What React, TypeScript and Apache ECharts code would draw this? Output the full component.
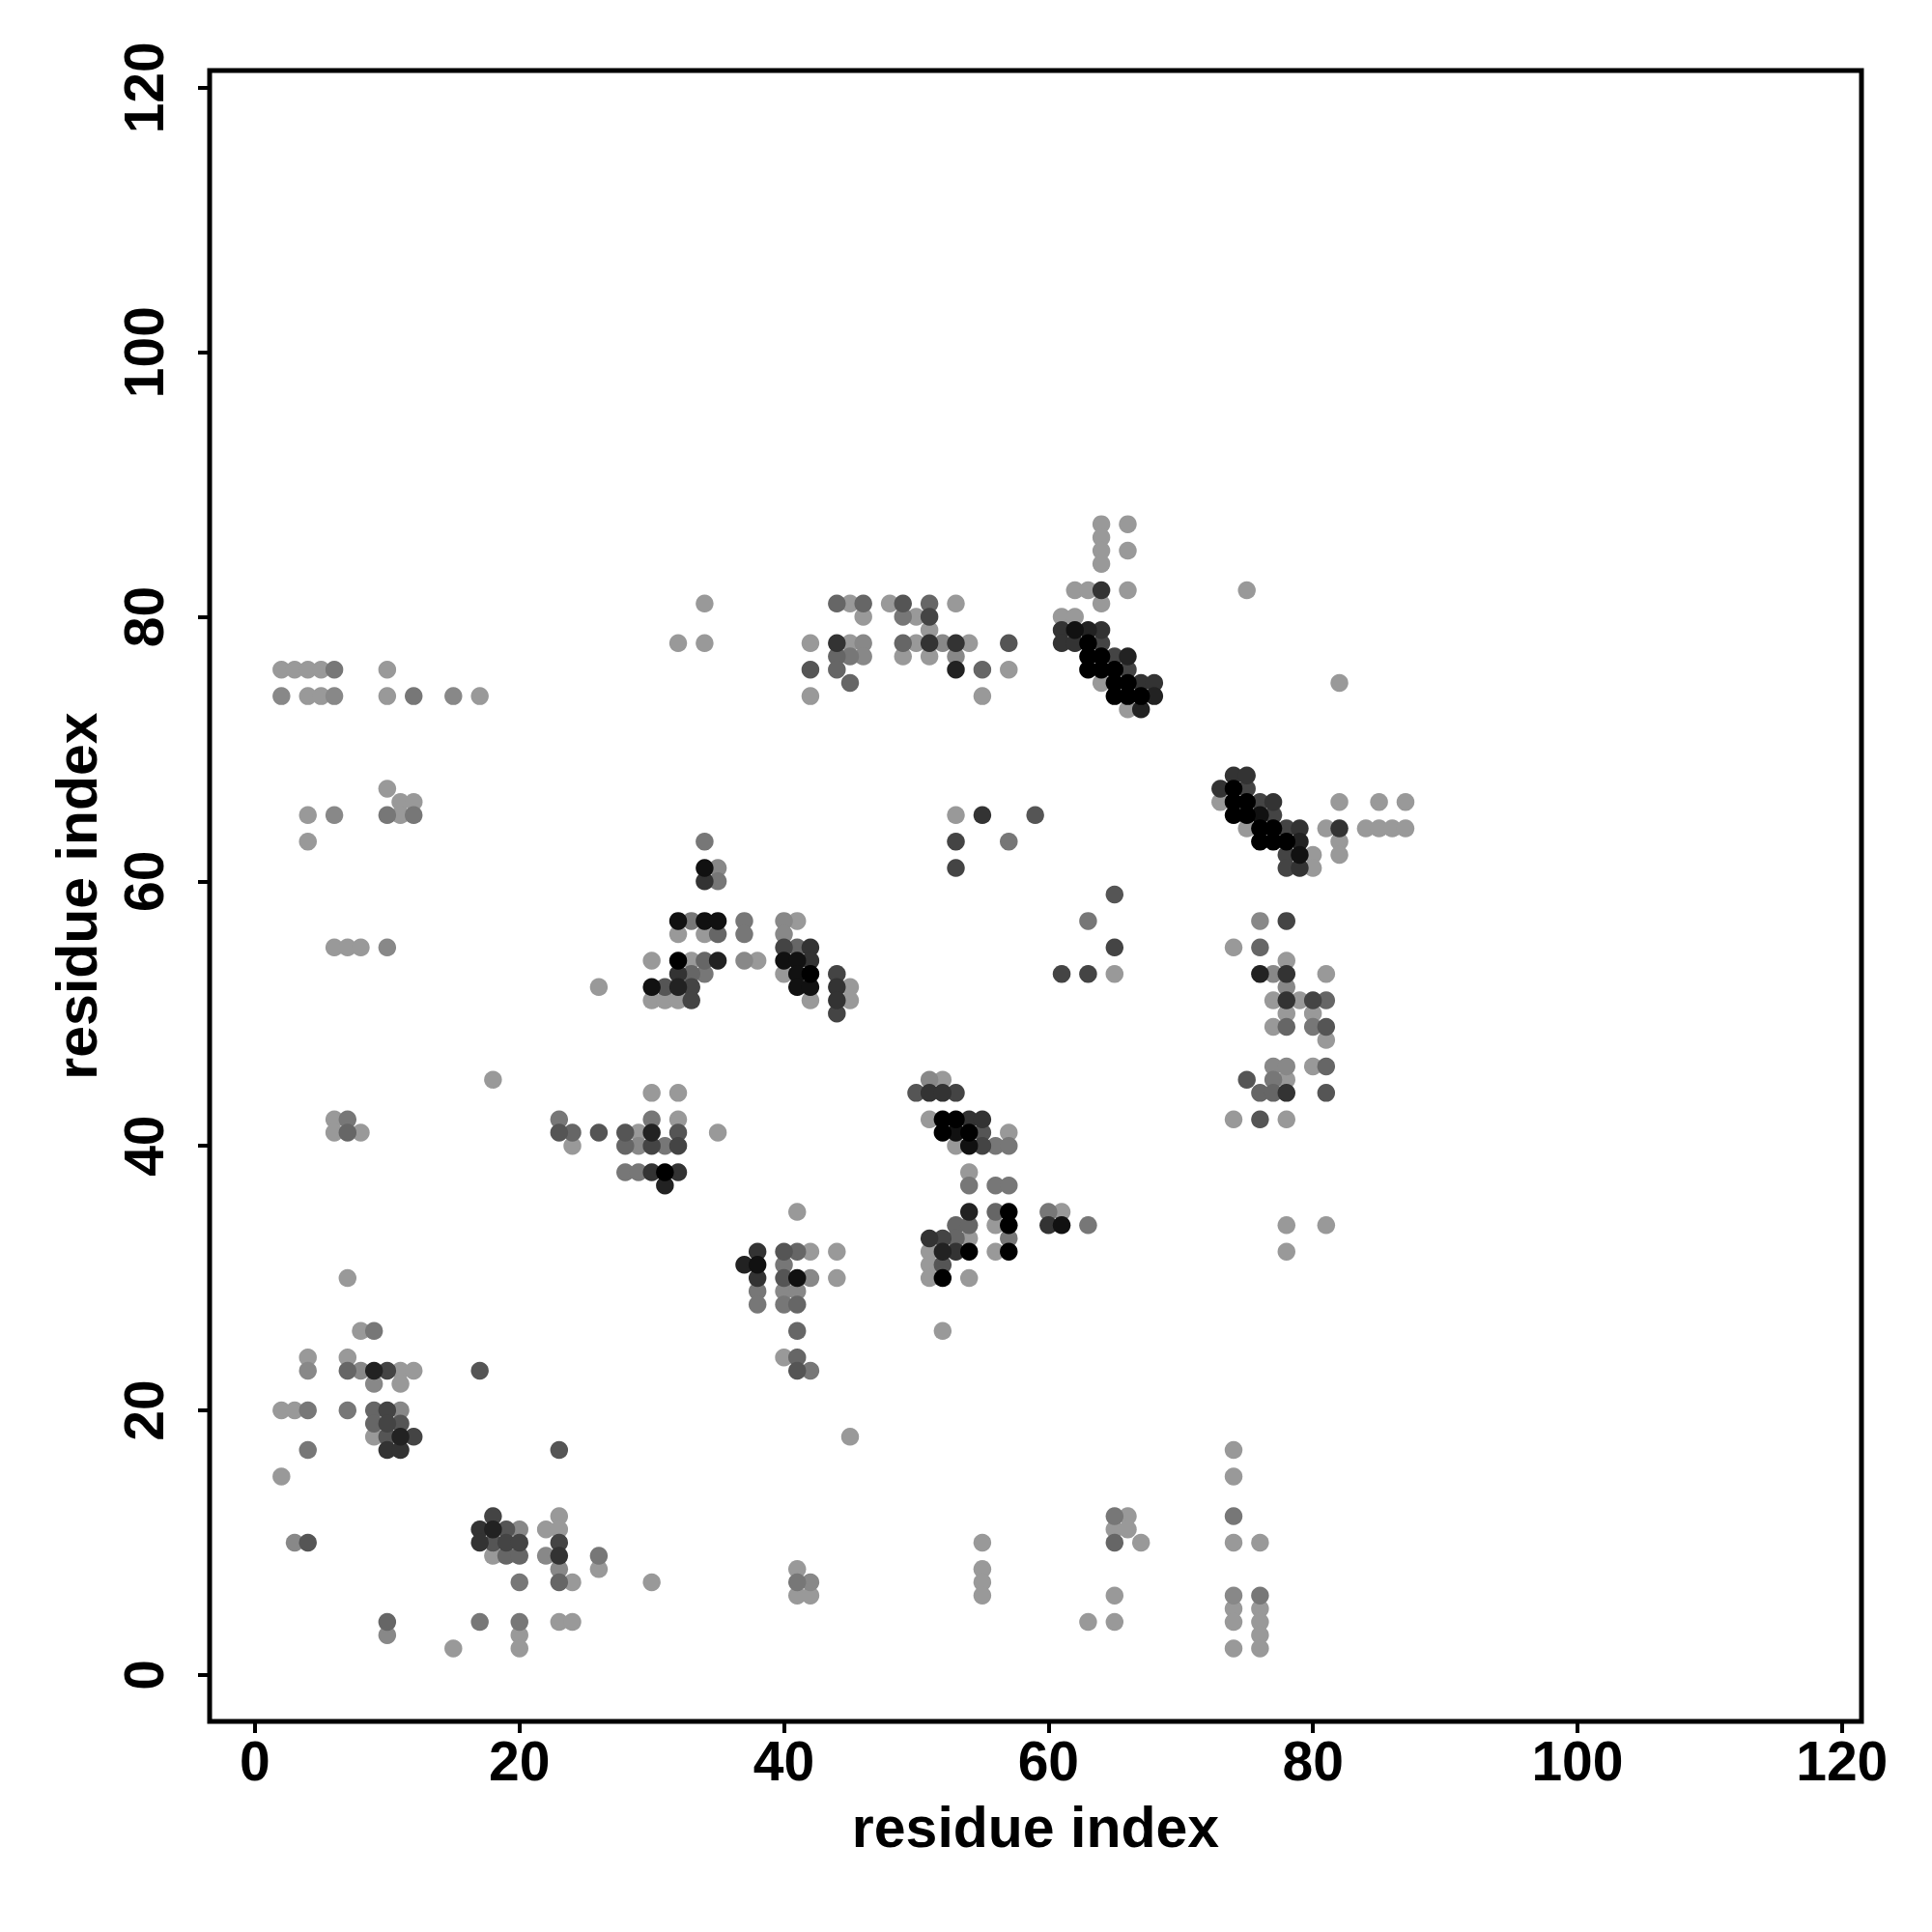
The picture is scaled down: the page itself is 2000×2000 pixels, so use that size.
import React, { useEffect, useRef } from 'react';
import * as echarts from 'echarts';

// Tick values and axis titles
const tickValues = [0, 20, 40, 60, 80, 100, 120];
const xTitle = 'residue index';
const yTitle = 'residue index';

// Contacts: [residue i, residue j, shade] (shade 0 = black ... 9 = light grey)
const clusterTopLeft = [
  [2, 76, 9], [3, 76, 9], [4, 76, 9], [5, 76, 9], [6, 76, 7], [10, 76, 9],
  [2, 74, 8], [4, 74, 9], [5, 74, 9], [6, 74, 8], [10, 74, 9], [12, 74, 7], [15, 74, 8], [17, 74, 9],
  [10, 67, 9], [11, 66, 9], [12, 66, 9],
  [4, 65, 9], [6, 65, 8], [10, 65, 7], [11, 65, 9], [12, 65, 7],
  [4, 63, 9],
];

const clusterLeftMid = [
  [6, 55, 9], [7, 55, 9], [8, 55, 9], [10, 55, 8],
  [18, 45, 9],
  [6, 42, 9], [7, 42, 7], [6, 41, 9], [7, 41, 6], [8, 41, 9],
];

const clusterLeftLow = [
  [7, 30, 9], [8, 26, 9], [9, 26, 7], [4, 24, 9], [7, 24, 9],
  [4, 23, 8], [7, 23, 6], [8, 23, 8], [9, 23, 2], [10, 23, 4], [11, 23, 9], [12, 23, 9], [17, 23, 5],
  [9, 22, 8], [11, 22, 9],
  [2, 20, 9], [3, 20, 9], [4, 20, 7], [7, 20, 7], [9, 20, 6], [10, 20, 4], [11, 20, 8],
  [9, 19, 6], [10, 19, 4], [11, 19, 5],
  [9, 18, 9], [10, 18, 5], [11, 18, 2], [12, 18, 4],
  [4, 17, 7], [10, 17, 3], [11, 17, 3],
  [2, 15, 9],
];

const clusterBottomLeft = [
  [3, 10, 8], [4, 10, 5],
  [23, 17, 5], [23, 12, 9], [18, 12, 4],
  [17, 11, 3], [18, 11, 2], [19, 11, 5], [20, 11, 8], [22, 11, 9], [23, 11, 9],
  [17, 10, 3], [18, 10, 5], [19, 10, 4], [20, 10, 4], [23, 10, 4],
  [18, 9, 9], [19, 9, 6], [20, 9, 6], [22, 9, 8], [23, 9, 3], [26, 9, 7],
  [23, 8, 8], [26, 8, 9],
  [20, 7, 7], [23, 7, 6], [24, 7, 9], [30, 7, 9],
  [10, 4, 6], [17, 4, 7], [20, 4, 7], [23, 4, 9], [24, 4, 9],
  [10, 3, 8], [20, 3, 9],
  [15, 2, 9], [20, 2, 9],
];

const clusterE = [
  [30, 44, 9], [32, 44, 9],
  [23, 42, 7], [30, 42, 7], [32, 42, 9],
  [23, 41, 5], [24, 41, 6], [26, 41, 5], [28, 41, 5], [29, 41, 9], [30, 41, 2], [32, 41, 5], [35, 41, 9],
  [24, 40, 9], [28, 40, 6], [29, 40, 8], [30, 40, 4], [31, 40, 7], [32, 40, 4],
  [28, 38, 7], [29, 38, 7], [30, 38, 3], [31, 38, 0], [32, 38, 3],
  [31, 37, 2],
];

const clusterF = [
  [34, 63, 7], [34, 61, 1], [35, 61, 8], [34, 60, 3], [35, 60, 7],
  [32, 57, 1], [33, 57, 7], [34, 57, 1], [35, 57, 1], [37, 57, 7], [40, 57, 8], [41, 57, 9],
  [32, 56, 9], [34, 56, 9], [35, 56, 6], [37, 56, 7], [40, 56, 8],
  [40, 55, 4], [41, 55, 6], [42, 55, 3],
  [30, 54, 9], [32, 54, 0], [33, 54, 9], [34, 54, 6], [35, 54, 2], [37, 54, 8], [38, 54, 9], [40, 54, 1], [41, 54, 1], [42, 54, 3],
  [32, 53, 3], [33, 53, 6], [34, 53, 7], [40, 53, 9], [41, 53, 1], [42, 53, 0], [44, 53, 4],
  [26, 52, 9], [30, 52, 1], [31, 52, 5], [32, 52, 2], [33, 52, 4], [41, 52, 1], [42, 52, 1], [44, 52, 3], [45, 52, 9],
  [30, 51, 9], [31, 51, 9], [32, 51, 9], [33, 51, 4], [42, 51, 9], [44, 51, 3], [45, 51, 9],
  [44, 50, 4],
];

const clusterG = [
  [34, 81, 9], [32, 78, 9], [34, 78, 9],
  [44, 81, 6], [45, 81, 9], [46, 81, 6], [48, 81, 9], [49, 81, 5], [51, 81, 6], [53, 81, 9],
  [46, 80, 9], [49, 80, 7], [50, 80, 9], [51, 80, 4],
  [51, 79, 9],
  [42, 78, 9], [44, 78, 3], [45, 78, 9], [46, 78, 8], [49, 78, 6], [50, 78, 9], [51, 78, 3], [52, 78, 8], [53, 78, 3], [54, 78, 9], [57, 78, 5],
  [44, 77, 6], [45, 77, 7], [46, 77, 8], [49, 77, 9], [51, 77, 9], [53, 77, 8],
  [42, 76, 5], [44, 76, 6], [53, 76, 2], [55, 76, 6], [57, 76, 9],
  [45, 75, 6],
  [42, 74, 9], [55, 74, 9],
];

const clusterH = [
  [64, 87, 9], [66, 87, 9], [64, 86, 9], [64, 85, 9], [66, 85, 9], [64, 84, 9],
  [62, 82, 9], [63, 82, 9], [64, 82, 3], [66, 82, 9],
  [64, 81, 9],
  [61, 80, 9], [62, 80, 9],
  [61, 79, 3], [62, 79, 1], [63, 79, 2], [64, 79, 3],
  [61, 78, 3], [62, 78, 3], [63, 78, 0], [64, 78, 4],
  [63, 77, 0], [64, 77, 0], [65, 77, 4], [66, 77, 2],
  [63, 76, 0], [64, 76, 0], [65, 76, 0], [66, 76, 4],
  [64, 75, 9], [65, 75, 0], [66, 75, 0], [67, 75, 3], [68, 75, 3],
  [65, 74, 0], [66, 74, 0], [67, 74, 0], [68, 74, 2],
  [66, 73, 9], [67, 73, 2],
  [75, 82, 9], [82, 75, 9],
];

const clusterI = [
  [53, 65, 9], [55, 65, 3], [59, 65, 5], [53, 63, 4], [57, 63, 7], [53, 61, 4],
  [65, 59, 5], [63, 57, 7], [65, 55, 4], [61, 53, 4], [63, 53, 4], [65, 53, 9],
];

const clusterJ = [
  [74, 68, 3], [75, 68, 3],
  [73, 67, 3], [74, 67, 0], [75, 67, 4],
  [73, 66, 9], [74, 66, 0], [75, 66, 0], [76, 66, 4], [77, 66, 3], [82, 66, 9], [85, 66, 9], [87, 66, 9],
  [74, 65, 0], [75, 65, 0], [76, 65, 1], [77, 65, 4],
  [75, 64, 9], [76, 64, 0], [77, 64, 0], [78, 64, 4], [79, 64, 3], [81, 64, 9], [82, 64, 3], [84, 64, 9], [85, 64, 9], [86, 64, 9], [87, 64, 9],
  [76, 63, 0], [77, 63, 0], [78, 63, 0], [79, 63, 2], [82, 63, 9],
  [78, 62, 4], [79, 62, 1], [80, 62, 9], [82, 62, 9],
  [78, 61, 4], [79, 61, 3], [80, 61, 9],
];

const clusterK = [
  [74, 55, 9], [76, 55, 6], [76, 57, 8], [78, 57, 4],
  [78, 54, 9],
  [76, 53, 2], [77, 53, 8], [78, 53, 3], [81, 53, 9],
  [78, 52, 8],
  [77, 51, 9], [78, 51, 3], [79, 51, 9], [80, 51, 4], [81, 51, 6],
  [78, 50, 9], [80, 50, 9],
  [77, 49, 9], [78, 49, 6], [80, 49, 7], [81, 49, 5],
  [81, 48, 9],
  [77, 46, 8], [78, 46, 8], [80, 46, 9], [81, 46, 6],
  [75, 45, 5], [77, 45, 7], [78, 45, 9],
  [76, 44, 6], [77, 44, 6], [78, 44, 3], [81, 44, 5],
  [74, 42, 9], [76, 42, 5], [78, 42, 9],
  [78, 34, 9], [81, 34, 9], [78, 32, 9],
];

const clusterL = [
  [51, 45, 8], [52, 45, 9],
  [50, 44, 5], [51, 44, 3], [52, 44, 3], [53, 44, 4],
  [51, 42, 9], [52, 42, 0], [53, 42, 0], [54, 42, 3], [55, 42, 3],
  [52, 41, 0], [53, 41, 1], [54, 41, 0], [55, 41, 5], [57, 41, 9],
  [53, 40, 9], [54, 40, 1], [55, 40, 4], [56, 40, 7], [57, 40, 7],
  [54, 38, 9],
  [54, 37, 7], [56, 37, 7], [57, 37, 7],
  [54, 35, 2], [56, 35, 6], [57, 35, 0], [60, 35, 7], [61, 35, 9],
  [53, 34, 6], [54, 34, 6], [56, 34, 9], [57, 34, 0], [60, 34, 3], [61, 34, 1], [63, 34, 7],
  [51, 33, 3], [52, 33, 4], [53, 33, 6], [54, 33, 9], [57, 33, 7],
  [51, 32, 9], [52, 32, 2], [53, 32, 3], [54, 32, 0], [56, 32, 9], [57, 32, 0],
  [51, 31, 9], [52, 31, 5],
  [51, 30, 9], [52, 30, 0], [54, 30, 9],
  [52, 26, 9],
];

const clusterM = [
  [41, 35, 9],
  [38, 32, 3], [40, 32, 5], [41, 32, 6], [42, 32, 9], [44, 32, 9],
  [37, 31, 2], [38, 31, 1], [40, 31, 7],
  [38, 30, 3], [40, 30, 5], [41, 30, 1], [42, 30, 8], [44, 30, 9],
  [38, 29, 7], [40, 29, 8], [41, 29, 8],
  [38, 28, 7], [40, 28, 7], [41, 28, 6],
  [41, 26, 6],
  [40, 24, 9], [41, 24, 6],
  [41, 23, 5], [42, 23, 7],
  [45, 18, 9],
  [41, 8, 9], [41, 7, 7], [42, 7, 8], [41, 6, 9], [42, 6, 9],
];

const clusterN = [
  [55, 10, 9], [55, 8, 9], [55, 7, 9], [55, 6, 9],
  [65, 12, 7], [66, 12, 9], [65, 11, 9], [66, 11, 9], [65, 10, 6], [67, 10, 9], [65, 6, 9], [63, 4, 9], [65, 4, 9],
  [74, 17, 9], [74, 15, 9], [74, 12, 7], [74, 10, 9], [76, 10, 9],
  [74, 6, 8], [76, 6, 7], [74, 5, 9], [76, 5, 9], [74, 4, 9], [76, 4, 9], [76, 3, 9], [74, 2, 9], [76, 2, 9],
];

const allContacts = [
  ...clusterTopLeft, ...clusterLeftMid, ...clusterLeftLow, ...clusterBottomLeft,
  ...clusterE, ...clusterF, ...clusterG, ...clusterH, ...clusterI, ...clusterJ,
  ...clusterK, ...clusterL, ...clusterM, ...clusterN,
];

function shadeColor(s: number): string {
  const v = Math.round(17 * s);
  return `rgb(${v},${v},${v})`;
}

const FONT = '"Liberation Sans", Arial, Helvetica, sans-serif';

export default function App() {
  const ref = useRef<HTMLDivElement>(null);
  useEffect(() => {
    if (!ref.current) return;
    const chart = echarts.init(ref.current, null, { renderer: 'svg' });
    // draw lighter first so darker points sit on top
    const sorted = [...allContacts].sort((a, b) => b[2] - a[2]);
    const data = sorted.map(([x, y, s]) => ({ value: [x, y], itemStyle: { color: shadeColor(s) } }));
    const labelStyle = {
      fontSize: 57,
      fontWeight: 'bold' as const,
      fontFamily: FONT,
      color: '#000',
    };
    chart.setOption({
      animation: false,
      backgroundColor: '#ffffff',
      grid: {
        left: 217,
        top: 73,
        width: 1710,
        height: 1709,
        show: true,
        borderColor: '#000',
        borderWidth: 5,
        backgroundColor: 'transparent',
      },
      xAxis: {
        type: 'value',
        min: -3.43,
        max: 121.48,
        splitLine: { show: false },
        axisLine: { show: false, onZero: false },
        axisTick: { show: true, customValues: tickValues, length: 12, lineStyle: { color: '#000', width: 4 } },
        axisLabel: { customValues: tickValues, margin: 12, ...labelStyle },
        name: xTitle,
        nameLocation: 'middle',
        nameGap: 80,
        nameTextStyle: { ...labelStyle, fontSize: 59 },
      },
      yAxis: {
        type: 'value',
        min: -3.52,
        max: 121.3,
        splitLine: { show: false },
        axisLine: { show: false, onZero: false },
        axisTick: { show: true, customValues: tickValues, length: 12, lineStyle: { color: '#000', width: 4 } },
        axisLabel: { customValues: tickValues, margin: 40, rotate: 90, ...labelStyle },
        name: yTitle,
        nameLocation: 'middle',
        nameGap: 108,
        nameRotate: 90,
        nameTextStyle: { ...labelStyle, fontSize: 59 },
      },
      series: [
        {
          type: 'scatter',
          data,
          symbol: 'circle',
          symbolSize: 18.5,
          itemStyle: { opacity: 1 },
          clip: true,
        },
      ],
    });
    return () => chart.dispose();
  }, []);
  return (
    <div
      ref={ref}
      style={{ position: 'absolute', left: 0, top: 0, width: 2000, height: 2000, background: '#fff' }}
    />
  );
}
